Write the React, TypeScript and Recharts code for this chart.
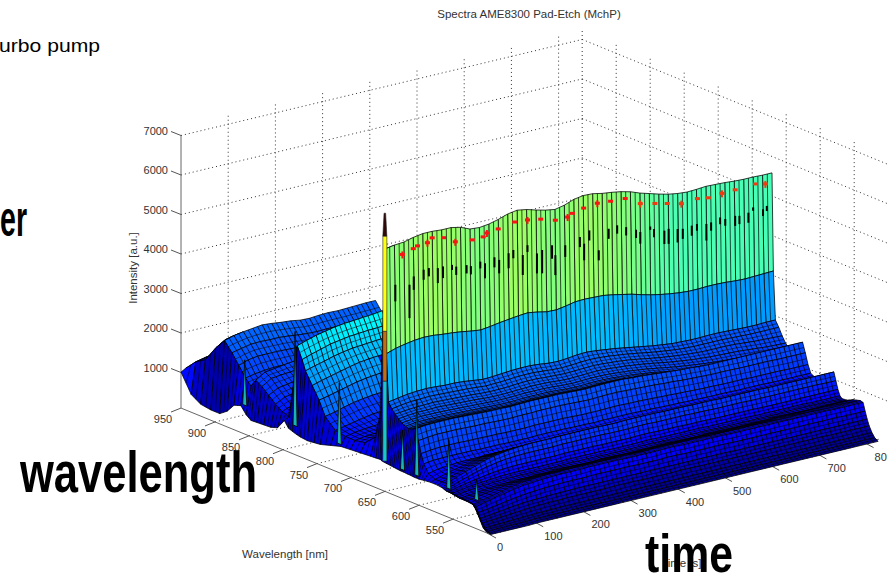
import React from 'react';
import { ScatterChart, Scatter, XAxis, YAxis, ReferenceLine } from 'recharts';

const WIDTH = 887;
const HEIGHT = 573;
const FONT = '"Liberation Sans", Arial, sans-serif';

// spectrum table: rows are wavelengths [nm] back to front, columns are times [s],
// cells are intensity in tens of counts. Rows behind the big wall stop where they get hidden.
const times = [0, 10, 30, 50, 70, 90, 110, 130, 150, 170, 190, 210, 230, 250, 270, 290, 310, 330, 350, 370, 390, 410, 430, 450, 470, 490, 510, 530, 550, 570, 590, 610, 630, 650, 670, 690, 710, 730, 750, 770, 790, 810, 830];
const wavelengths = [950, 935, 921, 906, 893, 882, 872, 862, 854, 847, 838, 828, 818, 808, 798, 792, 786, 779, 774, 764, 754, 745, 730, 715, 701, 686, 671, 663, 657, 655, 652, 647, 642, 637, 632, 627, 622, 617, 612, 608, 604, 600, 593, 583, 573, 566, 563, 560, 557, 554, 547, 537, 527, 523, 520, 517, 514, 510, 506, 501];
const spectra = [
  [101, 108, 112, 115],
  [55, 135, 140, 142],
  [40, 150, 160, 165],
  [36, 190, 205, 210],
  [36, 218, 225, 229, 232, 235, 233, 230, 228, 224, 223, 225, 226, 225, 226, 227, 228, 228, 229],
  [50, 195, 200, 205, 206, 205, 205, 203, 200, 198, 197, 198, 198, 199, 199, 199, 200, 201],
  [72, 170, 178, 182, 182, 182, 181, 180, 178, 176, 175, 175, 176, 176, 177, 177, 178, 178],
  [78, 145, 150, 153, 155, 155, 155, 153, 152, 150, 149, 150, 151, 151, 151, 152, 152],
  [60, 130, 135, 138, 140, 141, 140, 139, 137, 136, 135, 135, 136, 137, 137, 138],
  [51, 150, 165, 168, 172, 175, 178, 177, 175, 173, 172, 172, 173, 174, 174, 175],
  [52, 140, 155, 158, 160, 163, 165, 165, 163, 162, 161, 161, 162, 162, 163],
  [53, 125, 138, 142, 146, 148, 150, 150, 148, 147, 146, 147, 148, 148, 149],
  [54, 110, 122, 127, 130, 133, 135, 134, 133, 132, 132, 132, 133, 134],
  [60, 98, 108, 112, 116, 118, 120, 120, 118, 118, 118, 118, 119],
  [85, 92, 98, 102, 105, 107, 108, 108, 107, 107, 108, 108, 109],
  [70, 170, 185, 190, 195, 198, 200, 202, 205, 207, 208, 210],
  [66, 280, 288, 295, 300, 305, 308, 310, 312, 314, 317, 320],
  [62, 250, 258, 265, 272, 276, 280, 282, 284, 285, 287],
  [60, 225, 232, 238, 245, 250, 254, 256, 258, 260, 262],
  [58, 195, 202, 208, 214, 220, 225, 228, 230, 232],
  [60, 165, 170, 176, 182, 188, 192, 195, 197],
  [62, 130, 135, 142, 148, 152, 155, 157, 158],
  [70, 105, 110, 115, 120, 124, 126, 128],
  [78, 100, 105, 108, 110, 112, 113],
  [80, 100, 104, 106, 108, 110],
  [82, 105, 110, 113, 115],
  [84, 130, 140, 145],
  [85, 200, 240],
  [86, 616, 620, 622, 628, 632, 632, 630, 630, 625, 615, 613, 616, 622, 630, 634, 630, 623, 617, 613, 618, 627, 631, 630, 625, 622, 618, 612, 603, 596, 589, 583, 579, 577, 578, 580, 579, 578, 576, 575, 575, 574, 574],
  [84, 352, 360, 365, 369, 371, 370, 367, 365, 362, 358, 355, 358, 362, 365, 368, 370, 366, 361, 360, 364, 369, 370, 369, 368, 364, 359, 354, 347, 341, 336, 332, 329, 327, 327, 328, 328, 327, 325, 324, 325, 326, 327],
  [83, 232, 236, 240, 242, 243, 242, 240, 240, 238, 235, 232, 233, 235, 237, 238, 238, 236, 233, 232, 234, 237, 238, 236, 233, 230, 226, 222, 218, 214, 211, 208, 207, 206, 206, 207, 207, 206, 205, 204, 204, 205, 205],
  [82, 218, 222, 225, 226, 227, 226, 225, 224, 223, 221, 219, 220, 221, 223, 224, 224, 222, 220, 219, 220, 222, 223, 222, 220, 217, 214, 210, 206, 202, 199, 196, 194, 193, 193, 193, 193, 192, 191, 190, 190, 190, 190],
  [81, 208, 211, 213, 214, 215, 214, 213, 212, 211, 209, 208, 208, 209, 211, 212, 212, 210, 209, 208, 209, 210, 211, 210, 208, 206, 203, 199, 195, 191, 188, 185, 183, 181, 180, 180, 180, 179, 177, 175, 174, 173, 172],
  [80, 200, 203, 205, 205, 206, 205, 204, 203, 202, 200, 199, 199, 200, 201, 202, 202, 201, 199, 198, 199, 200, 201, 200, 198, 196, 193, 190, 186, 182, 178, 175, 172, 170, 168, 167, 166, 165, 163, 161, 159, 158, 157],
  [79, 193, 196, 198, 198, 198, 197, 196, 195, 194, 193, 192, 192, 193, 194, 194, 194, 193, 191, 190, 191, 192, 192, 191, 189, 187, 184, 181, 177, 173, 169, 166, 163, 160, 158, 156, 155, 153, 151, 150, 148, 147, 147],
  [78, 188, 191, 192, 192, 192, 191, 190, 189, 188, 187, 186, 186, 187, 188, 188, 188, 187, 185, 184, 185, 186, 186, 185, 183, 181, 178, 175, 171, 167, 163, 160, 157, 154, 152, 150, 148, 147, 145, 144, 143, 142, 142],
  [78, 186, 189, 190, 190, 190, 189, 188, 187, 186, 185, 184, 184, 185, 186, 186, 186, 185, 183, 182, 183, 184, 184, 183, 181, 179, 177, 174, 170, 167, 164, 161, 158, 156, 154, 152, 151, 150, 149, 148, 147, 146, 146],
  [77, 188, 190, 191, 191, 191, 190, 189, 188, 187, 186, 186, 186, 187, 188, 188, 188, 187, 186, 185, 186, 187, 187, 186, 185, 183, 181, 178, 175, 172, 170, 168, 166, 164, 163, 162, 161, 160, 160, 160, 160, 160, 160],
  [77, 192, 195, 196, 196, 196, 195, 194, 193, 192, 192, 191, 192, 193, 193, 193, 193, 192, 191, 190, 191, 192, 192, 192, 190, 189, 187, 185, 183, 181, 180, 178, 177, 177, 177, 177, 177, 177, 177, 177, 177, 177, 177],
  [76, 165, 168, 170, 170, 170, 169, 168, 168, 167, 166, 166, 167, 167, 168, 168, 168, 167, 166, 165, 166, 167, 167, 166, 165, 164, 163, 161, 160, 158, 157, 156, 155, 155, 155, 154, 154, 154, 154, 153, 153, 153, 153],
  [76, 135, 138, 140, 140, 140, 139, 139, 138, 138, 137, 137, 137, 138, 138, 138, 138, 137, 136, 136, 136, 137, 137, 136, 136, 135, 134, 133, 132, 131, 130, 129, 129, 128, 128, 128, 127, 127, 127, 127, 126, 126, 126],
  [76, 112, 115, 116, 116, 116, 116, 115, 115, 115, 114, 114, 114, 115, 115, 115, 115, 114, 114, 113, 114, 114, 114, 114, 113, 113, 112, 111, 111, 110, 110, 109, 109, 109, 108, 108, 108, 108, 107, 107, 107, 107, 107],
  [78, 92, 98, 100, 102, 103, 103, 104, 104, 104, 104, 104, 104, 104, 104, 104, 104, 104, 103, 103, 103, 104, 104, 104, 103, 103, 103, 102, 102, 102, 102, 101, 101, 101, 101, 101, 101, 100, 100, 100, 100, 100, 100],
  [80, 84, 92, 98, 103, 108, 112, 114, 115, 116, 116, 116, 116, 116, 116, 116, 116, 116, 115, 115, 115, 116, 116, 115, 115, 115, 115, 114, 114, 113, 113, 113, 113, 112, 112, 112, 112, 112, 112, 111, 111, 111, 111],
  [80, 85, 94, 102, 110, 116, 121, 125, 127, 128, 128, 128, 128, 129, 129, 129, 129, 128, 128, 128, 128, 129, 129, 129, 128, 128, 127, 127, 127, 126, 126, 125, 125, 125, 125, 125, 124, 124, 124, 124, 124, 124, 124],
  [78, 86, 96, 105, 113, 121, 127, 131, 134, 136, 137, 137, 137, 138, 138, 138, 138, 138, 137, 137, 138, 138, 138, 138, 137, 137, 137, 136, 136, 136, 135, 135, 135, 135, 135, 134, 134, 134, 134, 134, 134, 134, 134],
  [76, 78, 86, 94, 101, 107, 112, 115, 117, 118, 118, 118, 118, 119, 119, 119, 119, 119, 118, 118, 118, 119, 119, 118, 118, 118, 118, 117, 117, 116, 116, 116, 116, 115, 115, 115, 115, 115, 115, 115, 115, 114, 114],
  [74, 72, 78, 83, 87, 91, 94, 96, 97, 97, 97, 97, 97, 98, 98, 98, 98, 97, 97, 97, 97, 98, 98, 97, 97, 97, 96, 96, 96, 95, 95, 95, 95, 95, 94, 94, 94, 94, 94, 94, 94, 94, 94],
  [74, 68, 72, 76, 78, 80, 82, 83, 83, 83, 83, 83, 83, 84, 84, 84, 84, 84, 83, 83, 83, 84, 84, 83, 83, 83, 83, 83, 82, 82, 82, 82, 82, 81, 81, 81, 81, 81, 81, 80, 80, 80, 80],
  [74, 64, 67, 70, 72, 74, 75, 76, 76, 76, 76, 76, 76, 77, 77, 77, 77, 76, 76, 76, 76, 77, 77, 76, 76, 76, 76, 76, 76, 75, 75, 75, 75, 75, 75, 75, 76, 76, 76, 76, 75, 75, 75],
  [74, 62, 64, 67, 70, 72, 73, 74, 74, 75, 75, 76, 76, 76, 75, 75, 76, 76, 75, 75, 75, 76, 76, 76, 75, 75, 75, 76, 76, 76, 75, 75, 75, 75, 76, 76, 76, 75, 75, 75, 75, 76, 76],
  [73, 62, 66, 70, 74, 77, 80, 81, 82, 83, 83, 83, 84, 84, 84, 84, 84, 84, 84, 83, 84, 84, 84, 84, 84, 84, 84, 84, 83, 83, 83, 83, 83, 83, 84, 84, 84, 84, 84, 84, 84, 84, 84],
  [72, 60, 66, 72, 77, 82, 86, 88, 90, 91, 91, 92, 92, 92, 92, 92, 92, 92, 91, 91, 92, 92, 92, 92, 92, 92, 91, 91, 91, 91, 91, 91, 90, 90, 90, 90, 90, 90, 89, 89, 89, 89, 89],
  [70, 58, 63, 69, 74, 79, 83, 85, 87, 88, 89, 89, 89, 90, 90, 90, 90, 89, 89, 89, 89, 90, 90, 89, 89, 89, 89, 89, 88, 88, 88, 88, 88, 88, 88, 88, 88, 88, 88, 87, 87, 87, 87],
  [66, 45, 48, 52, 56, 60, 63, 65, 67, 68, 69, 69, 69, 70, 70, 70, 70, 70, 69, 69, 69, 70, 70, 69, 69, 69, 69, 69, 68, 68, 68, 68, 68, 68, 68, 68, 68, 68, 68, 68, 67, 67, 67],
  [60, 32, 35, 38, 41, 44, 46, 47, 48, 49, 49, 50, 50, 50, 50, 50, 50, 50, 50, 50, 50, 50, 50, 50, 50, 50, 50, 50, 49, 49, 49, 49, 49, 49, 49, 49, 49, 49, 49, 49, 49, 49, 49],
  [50, 22, 24, 26, 28, 30, 32, 33, 34, 34, 35, 35, 35, 35, 35, 36, 36, 36, 35, 35, 35, 35, 36, 36, 35, 35, 35, 35, 35, 35, 35, 35, 35, 35, 35, 35, 35, 35, 34, 34, 34, 34, 34],
  [35, 13, 14, 15, 16, 17, 18, 19, 19, 20, 20, 20, 20, 20, 20, 20, 20, 20, 20, 20, 20, 20, 20, 20, 20, 20, 20, 20, 20, 20, 20, 20, 20, 20, 20, 20, 20, 20, 20, 20, 20, 20, 20],
  [20, 7, 8, 8, 9, 9, 10, 10, 10, 10, 10, 10, 10, 10, 10, 10, 10, 10, 10, 10, 10, 10, 10, 10, 10, 10, 10, 10, 10, 10, 10, 10, 10, 10, 10, 10, 10, 10, 10, 10, 10, 10, 10],
  [12, 3, 3, 3, 3, 3, 4, 4, 4, 4, 4, 4, 4, 4, 4, 4, 4, 4, 4, 4, 4, 4, 4, 4, 4, 4, 4, 4, 4, 4, 4, 4, 4, 4, 4, 4, 4, 4, 4, 4, 4, 4, 4],
];

// the bright line around 786 nm is coloured hotter than its height
const hotRows = [786, 779, 774, 764, 754];
// the two tall wall faces carry no extra mesh line along time
const wallRows = [657, 655];

// short first-spectrum spikes at the t=0 edge
const spikeWaves = [859, 785, 720, 627, 606, 559, 518];
const spikeTops = [1950, 3190, 2350, 1800, 2720, 2040, 1320];
const mainSpikeWave = 653;
const mainSpikeLevels = [835, 2860, 4120, 6530, 7110];
const mainSpikeColors = ['#18c8c8', '#c07010', '#ffff10', '#300808'];

// red trace on the wall
const redTimes = [47, 70, 79, 100, 110, 134, 159, 195, 218, 226, 250, 285, 312, 340, 371, 397, 407, 431, 460, 488, 519, 551, 582, 608, 638, 672, 695, 724, 752, 795, 816];
const redLevels = [5915, 5995, 6040, 6060, 6155, 6090, 5915, 5860, 5870, 5945, 5980, 6055, 6030, 5970, 5855, 5860, 5925, 5990, 6030, 6000, 5980, 5760, 5675, 5600, 5510, 5540, 5495, 5525, 5535, 5560, 5500];

// black dashes on the wall
const dashTimes = [32, 62, 71, 92, 103, 122, 133, 152, 161, 183, 192, 212, 222, 242, 252, 272, 282, 302, 312, 332, 343, 364, 371, 392, 423, 432, 443, 463, 484, 502, 521, 542, 551, 572, 580, 602, 611, 630, 641, 660, 671, 691, 701, 720, 731, 752, 761, 780, 790, 811, 819];
const dashTops = [5190, 5105, 5290, 5400, 5410, 5355, 5365, 5350, 5280, 5255, 5205, 5260, 5190, 5285, 5190, 5300, 5355, 5170, 5390, 5125, 5180, 5240, 4970, 5160, 5280, 5085, 5390, 4830, 5315, 5350, 5250, 5125, 5040, 5120, 5035, 4930, 4950, 4890, 4865, 4890, 4900, 4845, 4855, 4925, 4855, 4875, 4850, 4875, 4980, 4875, 4935];
const dashSpans = [420, 845, 340, 255, 210, 380, 295, 130, 210, 210, 210, 170, 380, 255, 340, 380, 210, 505, 170, 505, 590, 340, 505, 295, 255, 420, 255, 255, 255, 210, 210, 210, 295, 85, 210, 340, 380, 340, 255, 255, 170, 420, 210, 170, 170, 255, 210, 255, 85, 170, 130];

const intensityTicks = [1000, 2000, 3000, 4000, 5000, 6000, 7000];
const waveTicks = [950, 900, 850, 800, 750, 700, 650, 600, 550];
const timeTicks = [0, 100, 200, 300, 400, 500, 600, 700, 800];

const colorLevels = [0, 300, 800, 1300, 2250, 3300, 3700, 5800, 6400, 12000];
const colorPositions = [0, 0.03, 0.11, 0.17, 0.22, 0.28, 0.31, 0.45, 0.54, 1];

const WAVE_MAX = 950;
const WAVE_MIN = 500;
const TIME_MAX = 850;
const FLOOR_LEVEL = 100;
const TOP_LEVEL = 7250;

// fixed oblique view of the 3D box onto the plane the chart axes span
const project = (wave: number, time: number, level: number) => {
  const u = (WAVE_MAX - wave) / (WAVE_MAX - WAVE_MIN);
  return {
    x: 181 + 306 * u + 0.472 * time,
    y: 412 + 125 * u - 0.113 * time - 0.0395 * level,
  };
};

const clamp = (v: number) => Math.round(255 * Math.max(0, Math.min(1, v)));

const jet = (level: number) => {
  let v = 1;
  for (let i = 1; i < colorLevels.length; i++) {
    if (level <= colorLevels[i]) {
      const f = (level - colorLevels[i - 1]) / (colorLevels[i] - colorLevels[i - 1]);
      v = colorPositions[i - 1] + f * (colorPositions[i] - colorPositions[i - 1]);
      break;
    }
  }
  const r = clamp(1.5 - Math.abs(4 * v - 3));
  const g = clamp(1.5 - Math.abs(4 * v - 2));
  const b = clamp(1.5 - Math.abs(4 * v - 1));
  return `rgb(${r},${g},${b})`;
};

type Pt = { x: number; y: number };
type Face = { x: number; y: number; pts: Pt[]; fill: string; stroke: string; sw: number; midT?: boolean; midW?: boolean };

const makeFace = (pts: Pt[], fill: string, stroke = '#000', sw = 0.75): Face => ({
  x: pts[0].x,
  y: pts[0].y,
  pts,
  fill,
  stroke,
  sw,
});

// painter's order: far rows first, and late times first inside a row
const buildFaces = () => {
  const faces: Face[] = [];
  for (let r = 0; r < spectra.length - 1; r++) {
    const back = spectra[r];
    const front = spectra[r + 1];
    const gain = hotRows.includes(wavelengths[r]) ? 1.45 : 1;
    const n = Math.min(back.length, front.length);
    for (let c = n - 2; c >= 0; c--) {
      const corners = [
        project(wavelengths[r], times[c], back[c] * 10),
        project(wavelengths[r], times[c + 1], back[c + 1] * 10),
        project(wavelengths[r + 1], times[c + 1], front[c + 1] * 10),
        project(wavelengths[r + 1], times[c], front[c] * 10),
      ];
      const level = c === 0 ? back[0] * 10 : ((back[c] + back[c + 1]) / 2) * 10 * gain;
      const face = makeFace(corners, jet(level));
      face.midT = c > 0;
      face.midW = !wallRows.includes(wavelengths[r]);
      faces.push(face);
    }
  }
  return faces;
};

const buildDashes = () =>
  dashTimes.map((t, i) => {
    const a = project(657, t, dashTops[i]);
    const b = project(657, t, dashTops[i] - dashSpans[i]);
    return makeFace(
      [
        { x: a.x - 1, y: a.y },
        { x: a.x + 1, y: a.y },
        { x: b.x + 1, y: b.y },
        { x: b.x - 1, y: b.y },
      ],
      '#000',
      'none',
      0,
    );
  });

const buildSpikes = () => {
  const faces: Face[] = [];
  spikeWaves.forEach((w, i) => {
    const top = project(w, 4, spikeTops[i]);
    const left = project(w + 3, 4, 800);
    const right = project(w - 3, 4, 800);
    faces.push(makeFace([left, top, right], '#18b4b4', '#000', 0.8));
  });
  for (let i = 0; i < mainSpikeColors.length; i++) {
    const a = project(mainSpikeWave, 4, mainSpikeLevels[i]);
    const b = project(mainSpikeWave, 4, mainSpikeLevels[i + 1]);
    const half = i === mainSpikeColors.length - 1 ? 0.8 : 2;
    faces.push(
      makeFace(
        [
          { x: a.x - 2, y: a.y },
          { x: b.x - half, y: b.y },
          { x: b.x + half, y: b.y },
          { x: a.x + 2, y: a.y },
        ],
        mainSpikeColors[i],
        '#222',
        0.6,
      ),
    );
  }
  return faces;
};

const surfaceFaces = [...buildFaces(), ...buildDashes(), ...buildSpikes()];
const redPoints = redTimes.map((t, i) => ({ ...project(657, t, redLevels[i]), late: t > 520, wide: i % 3 === 0 }));

type Seg = { a: Pt; b: Pt };
const gridSegments: Seg[] = [];
const axisSegments: Seg[] = [
  { a: project(WAVE_MAX, 0, 7000), b: project(WAVE_MAX, 0, FLOOR_LEVEL) },
  { a: project(WAVE_MAX, 0, FLOOR_LEVEL), b: project(WAVE_MIN, 0, FLOOR_LEVEL) },
  { a: project(WAVE_MIN, 0, FLOOR_LEVEL), b: project(WAVE_MIN, 830, FLOOR_LEVEL) },
];
intensityTicks.forEach((level) => {
  gridSegments.push({ a: project(WAVE_MAX, 0, level), b: project(WAVE_MAX, TIME_MAX, level) });
  gridSegments.push({ a: project(WAVE_MAX, TIME_MAX, level), b: project(WAVE_MIN, TIME_MAX, level) });
});
timeTicks.forEach((t) => {
  if (t === 0) return;
  gridSegments.push({ a: project(WAVE_MAX, t, FLOOR_LEVEL), b: project(WAVE_MAX, t, TOP_LEVEL) });
  gridSegments.push({ a: project(WAVE_MAX, t, FLOOR_LEVEL), b: project(WAVE_MIN, t, FLOOR_LEVEL) });
});
waveTicks.forEach((w) => {
  if (w === WAVE_MAX) return;
  gridSegments.push({ a: project(w, TIME_MAX, FLOOR_LEVEL), b: project(w, TIME_MAX, TOP_LEVEL) });
  gridSegments.push({ a: project(w, 0, FLOOR_LEVEL), b: project(w, TIME_MAX, FLOOR_LEVEL) });
});
gridSegments.push({ a: project(WAVE_MAX, TIME_MAX, FLOOR_LEVEL), b: project(WAVE_MAX, TIME_MAX, TOP_LEVEL) });

type TickPoint = Pt & { text: string; kind: 'z' | 'w' | 't' };
const tickPoints: TickPoint[] = [
  ...intensityTicks.map((v) => ({ ...project(WAVE_MAX, 0, v), text: String(v), kind: 'z' as const })),
  ...waveTicks.map((v) => ({ ...project(v, 0, FLOOR_LEVEL), text: String(v), kind: 'w' as const })),
  ...timeTicks.map((v) => ({ ...project(WAVE_MIN, v, FLOOR_LEVEL), text: String(v), kind: 't' as const })),
];

const FaceShape = (props: any) => {
  const { cx, cy, payload } = props;
  const d = payload as Face;
  // domain and range are both 0..887 / 0..573, so one unit is one pixel from the anchor
  const sx = (p: Pt) => cx + p.x - d.x;
  const sy = (p: Pt) => cy + p.y - d.y;
  const points = d.pts.map((p) => `${sx(p)},${sy(p)}`).join(' ');
  const [p0, p1, p2, p3] = d.pts;
  const mid = (a: Pt, b: Pt) => ({ x: (a.x + b.x) / 2, y: (a.y + b.y) / 2 });
  return (
    <g>
      <polygon points={points} fill={d.fill} stroke={d.stroke} strokeWidth={d.sw} strokeLinejoin="round" />
      {d.midT && (
        <line x1={sx(mid(p0, p1))} y1={sy(mid(p0, p1))} x2={sx(mid(p2, p3))} y2={sy(mid(p2, p3))} stroke="#000" strokeWidth={0.7} />
      )}
      {d.midW && (
        <line x1={sx(mid(p0, p3))} y1={sy(mid(p0, p3))} x2={sx(mid(p1, p2))} y2={sy(mid(p1, p2))} stroke="#000" strokeWidth={0.5} />
      )}
    </g>
  );
};

const RedShape = (props: any) => {
  const { cx, cy, payload } = props;
  const fill = payload.late ? '#f03a10' : '#fa1414';
  return (
    <g>
      <rect x={cx - 2.5} y={cy - 1.5} width={5} height={3} fill={fill} />
      {payload.wide && <rect x={cx - 1} y={cy - 3} width={2} height={7} fill={fill} />}
    </g>
  );
};

const TickShape = (props: any) => {
  const { cx, cy, payload } = props;
  const p = payload as TickPoint;
  const style = { fontFamily: FONT, fontSize: 11, fill: '#333' };
  if (p.kind === 'z') {
    return (
      <g>
        <line x1={cx} y1={cy} x2={cx - 10} y2={cy - 4} stroke="#555" />
        <text x={cx - 13} y={cy - 1} textAnchor="end" {...style}>{p.text}</text>
      </g>
    );
  }
  if (p.kind === 'w') {
    return (
      <g>
        <line x1={cx} y1={cy} x2={cx - 10} y2={cy + 4} stroke="#555" />
        <text x={cx - 18} y={cy + 15} textAnchor="middle" {...style}>{p.text}</text>
      </g>
    );
  }
  return (
    <g>
      <line x1={cx} y1={cy} x2={cx + 9} y2={cy + 5} stroke="#555" />
      <text x={cx + 10} y={cy + 18} textAnchor="start" {...style}>{p.text}</text>
    </g>
  );
};

const App: React.FC = () => {
  const bigStyle = { fontFamily: FONT, fontWeight: 700, fill: '#000' };
  const smallStyle = { fontFamily: FONT, fontSize: 11.5, fill: '#333' };
  return (
    <div style={{ position: 'absolute', left: 0, top: 0, width: WIDTH, height: HEIGHT, overflow: 'hidden', background: '#fff' }}>
      <ScatterChart width={WIDTH} height={HEIGHT} margin={{ top: 0, right: 0, bottom: 0, left: 0 }}>
        <XAxis type="number" dataKey="x" domain={[0, WIDTH]} hide />
        <YAxis type="number" dataKey="y" domain={[0, HEIGHT]} reversed hide />
        {gridSegments.map((s, i) => (
          <ReferenceLine
            key={`g${i}`}
            segment={[s.a, s.b]}
            stroke="#333"
            strokeWidth={1}
            strokeDasharray="1 3"
            ifOverflow="visible"
          />
        ))}
        {axisSegments.map((s, i) => (
          <ReferenceLine key={`a${i}`} segment={[s.a, s.b]} stroke="#666" strokeWidth={1} ifOverflow="visible" />
        ))}
        <Scatter data={tickPoints} shape={TickShape} isAnimationActive={false} />
        <Scatter data={surfaceFaces} shape={FaceShape} isAnimationActive={false} />
        <Scatter data={redPoints} shape={RedShape} isAnimationActive={false} />
        <text x={529} y={18} textAnchor="middle" {...smallStyle}>Spectra AME8300 Pad-Etch (MchP)</text>
        <text x={137} y={268} textAnchor="middle" transform="rotate(-90 137 268)" {...smallStyle}>Intensity [a.u.]</text>
        <text x={285} y={558} textAnchor="middle" {...smallStyle}>Wavelength [nm]</text>
        <text x={683} y={567} textAnchor="middle" {...smallStyle}>time [s]</text>
        <text x={-1} y={52} textLength={101} lengthAdjust="spacingAndGlyphs" style={{ fontFamily: FONT, fontSize: 19, fill: '#000' }}>urbo pump</text>
        <text x={0} y={236} fontSize={50} textLength={27} lengthAdjust="spacingAndGlyphs" {...bigStyle}>er</text>
        <text x={20} y={492} fontSize={57} textLength={237} lengthAdjust="spacingAndGlyphs" {...bigStyle}>wavelength</text>
        <text x={645} y={572} fontSize={54} textLength={88} lengthAdjust="spacingAndGlyphs" {...bigStyle}>time</text>
      </ScatterChart>
    </div>
  );
};

export default App;
